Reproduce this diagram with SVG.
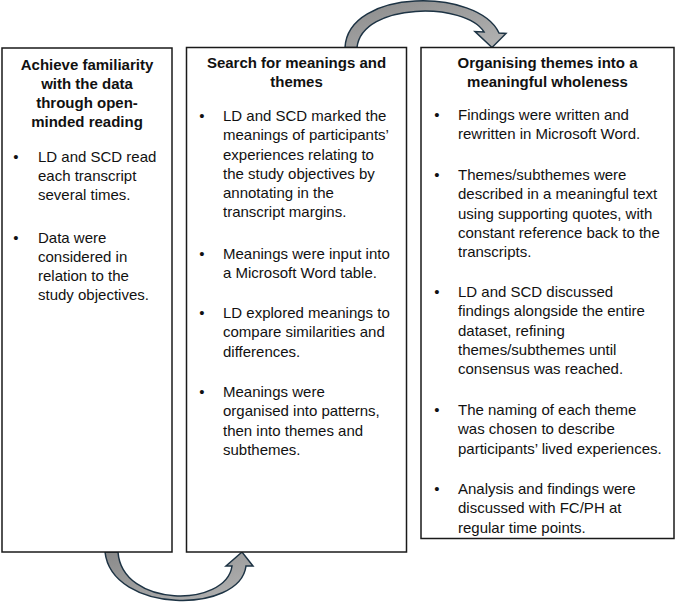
<svg xmlns="http://www.w3.org/2000/svg" width="676" height="602" viewBox="0 0 676 602">
<style>
.box{fill:#ffffff;stroke:#1a1a1a;stroke-width:1.5}
.t{font-family:"Liberation Sans",Arial,sans-serif;font-size:15px;fill:#111111}
.h{font-weight:bold;text-anchor:middle}
.b{text-anchor:middle}
.arr{fill:url(#g);stroke:#1d3344;stroke-width:1.5;stroke-linejoin:miter}
</style>
<defs>
<linearGradient id="g" x1="0" y1="0" x2="1" y2="1">
<stop offset="0" stop-color="#8a8a8a"/>
<stop offset="1" stop-color="#b4b4b4"/>
</linearGradient>
</defs>
<rect width="676" height="602" fill="#ffffff"/>
<g id="connectors">
<path class="arr" d="M345,47.5 C348,-12 478,-12 499,33 L506,33.5 L492,47.5 L475,31.5 L484,32 C466,2 362,2 357,47.5 Z"/>
<path class="arr" d="M105,552 C112,614 240,614 246,566 L253,566 L242,552 L226,566 L232,566 C226,608 122,608 118,552 Z"/>
</g>
<g id="node1">
<rect class="box" x="2" y="48" width="170" height="504"/>
<text class="t h" x="87" y="69.5">Achieve familiarity</text>
<text class="t h" x="87" y="88.8">with the data</text>
<text class="t h" x="87" y="108.1">through open-</text>
<text class="t h" x="87" y="127.4">minded reading</text>
<text class="t b" x="16" y="161.5">•</text>
<text class="t" x="38" y="161.5">LD and SCD read</text>
<text class="t" x="38" y="180.8">each transcript</text>
<text class="t" x="38" y="200.1">several times.</text>
<text class="t b" x="16" y="242.5">•</text>
<text class="t" x="38" y="242.5">Data were</text>
<text class="t" x="38" y="261.8">considered in</text>
<text class="t" x="38" y="281.1">relation to the</text>
<text class="t" x="38" y="300.4">study objectives.</text>
</g>
<g id="node2">
<rect class="box" x="186.5" y="47.5" width="220" height="504.5"/>
<text class="t h" x="296.5" y="68">Search for meanings and</text>
<text class="t h" x="296.5" y="87.3">themes</text>
<text class="t b" x="202" y="121">•</text>
<text class="t" x="223" y="121">LD and SCD marked the</text>
<text class="t" x="223" y="140.25">meanings of participants’</text>
<text class="t" x="223" y="159.5">experiences relating to</text>
<text class="t" x="223" y="178.75">the study objectives by</text>
<text class="t" x="223" y="198">annotating in the</text>
<text class="t" x="223" y="217.25">transcript margins.</text>
<text class="t b" x="202" y="259">•</text>
<text class="t" x="223" y="259">Meanings were input into</text>
<text class="t" x="223" y="278.25">a Microsoft Word table.</text>
<text class="t b" x="202" y="318">•</text>
<text class="t" x="223" y="318">LD explored meanings to</text>
<text class="t" x="223" y="337.25">compare similarities and</text>
<text class="t" x="223" y="356.5">differences.</text>
<text class="t b" x="202" y="397">•</text>
<text class="t" x="223" y="397">Meanings were</text>
<text class="t" x="223" y="416.25">organised into patterns,</text>
<text class="t" x="223" y="435.5">then into themes and</text>
<text class="t" x="223" y="454.75">subthemes.</text>
</g>
<g id="node3">
<rect class="box" x="421" y="47.5" width="253" height="491"/>
<text class="t h" x="547.5" y="68">Organising themes into a</text>
<text class="t h" x="547.5" y="87.3">meaningful wholeness</text>
<text class="t b" x="437" y="120">•</text>
<text class="t" x="458" y="120">Findings were written and</text>
<text class="t" x="458" y="139.25">rewritten in Microsoft Word.</text>
<text class="t b" x="437" y="180">•</text>
<text class="t" x="458" y="180">Themes/subthemes were</text>
<text class="t" x="458" y="199.25">described in a meaningful text</text>
<text class="t" x="458" y="218.5">using supporting quotes, with</text>
<text class="t" x="458" y="237.75">constant reference back to the</text>
<text class="t" x="458" y="257">transcripts.</text>
<text class="t b" x="437" y="297">•</text>
<text class="t" x="458" y="297">LD and SCD discussed</text>
<text class="t" x="458" y="316.25">findings alongside the entire</text>
<text class="t" x="458" y="335.5">dataset, refining</text>
<text class="t" x="458" y="354.75">themes/subthemes until</text>
<text class="t" x="458" y="374">consensus was reached.</text>
<text class="t b" x="437" y="415">•</text>
<text class="t" x="458" y="415">The naming of each theme</text>
<text class="t" x="458" y="434.25">was chosen to describe</text>
<text class="t" x="458" y="453.5">participants’ lived experiences.</text>
<text class="t b" x="437" y="494">•</text>
<text class="t" x="458" y="494">Analysis and findings were</text>
<text class="t" x="458" y="513.25">discussed with FC/PH at</text>
<text class="t" x="458" y="532.5">regular time points.</text>
</g>
</svg>
